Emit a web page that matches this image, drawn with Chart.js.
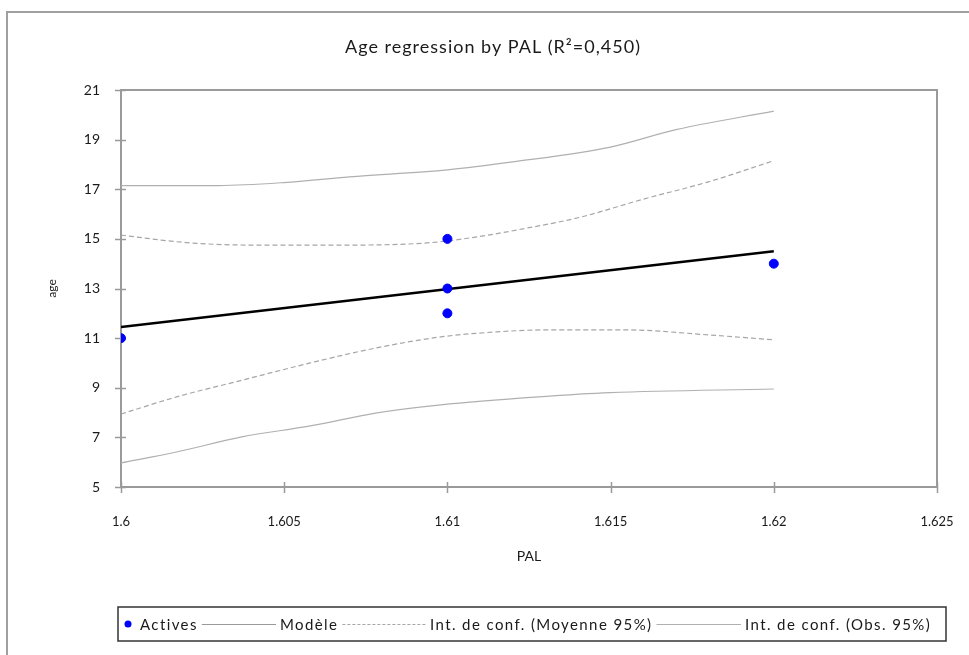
<!DOCTYPE html>
<html>
<head>
<meta charset="utf-8">
<script src="https://cdn.jsdelivr.net/npm/chart.js@4.4.1/dist/chart.umd.min.js"></script>
<style>
  html, body { margin: 0; padding: 0; background: #fff; }
  canvas { display: block; }
</style>
</head>
<body>
<canvas id="chart" width="969" height="655"></canvas>
<script>
// ========== DATA ==========
const activePal = [1.6, 1.61, 1.61, 1.61, 1.62];
const activeAge = [11, 15, 13, 12, 14];

const modelPal = [1.6, 1.62];
const modelAge = [11.45, 14.5];

// confidence interval on the mean (dashed)
const meanUpPal = [1.6, 1.602, 1.604, 1.607, 1.6095, 1.611, 1.6125, 1.614, 1.616, 1.618, 1.62];
const meanUpAge = [15.15, 14.85, 14.75, 14.75, 14.85, 15.1, 15.45, 15.85, 16.6, 17.3, 18.15];
const meanLoPal = [1.6, 1.6017, 1.6037, 1.6058, 1.6078, 1.6098, 1.6115, 1.613, 1.6155, 1.618, 1.62];
const meanLoAge = [7.94, 8.63, 9.3, 10.0, 10.6, 11.05, 11.25, 11.33, 11.33, 11.13, 10.93];

// confidence interval on observations (solid grey)
const obsUpPal = [1.6, 1.603, 1.605, 1.607, 1.61, 1.612, 1.615, 1.617, 1.62];
const obsUpAge = [17.15, 17.15, 17.27, 17.5, 17.78, 18.1, 18.7, 19.4, 20.15];
const obsLoPal = [1.6, 1.6017, 1.6037, 1.6058, 1.6078, 1.6098, 1.6128, 1.615, 1.62];
const obsLoAge = [5.97, 6.41, 7.02, 7.46, 7.98, 8.31, 8.63, 8.8, 8.95];

const xTicks = [1.6, 1.605, 1.61, 1.615, 1.62, 1.625];
const xTickLabels = ['1.6', '1.605', '1.61', '1.615', '1.62', '1.625'];
const yTicks = [5, 7, 9, 11, 13, 15, 17, 19, 21];

const legendLabels = ['Actives', 'Modèle', 'Int. de conf. (Moyenne 95%)', 'Int. de conf. (Obs. 95%)'];

// ========== STYLE ==========
const FONT = "Lato, 'Liberation Sans', sans-serif";
const TEXT = '#1a1a1a';
const AXIS = '#9a9a9a';

const toPts = (xs, ys) => xs.map((x, i) => ({ x: x, y: ys[i] }));

const bandLine = (label, xs, ys, color, dash) => ({
  label: label,
  data: toPts(xs, ys),
  showLine: true,
  borderColor: color,
  borderWidth: 1.2,
  borderDash: dash,
  pointRadius: 0,
  tension: 0.35,
  cubicInterpolationMode: 'monotone'
});

// frame, tick marks, title, legend and outer border
const decor = {
  id: 'decor',
  beforeDraw(chart) {
    const ctx = chart.ctx;
    ctx.save();
    ctx.fillStyle = '#fff';
    ctx.fillRect(0, 0, chart.width, chart.height);
    ctx.restore();
  },
  beforeDatasetsDraw(chart) {
    const { ctx, chartArea: a, scales } = chart;
    ctx.save();
    ctx.strokeStyle = AXIS;
    ctx.lineWidth = 2;
    ctx.strokeRect(a.left, a.top, a.right - a.left, a.bottom - a.top);
    ctx.lineWidth = 1.5;
    ctx.beginPath();
    scales.y.ticks.forEach(t => {
      const py = Math.round(scales.y.getPixelForValue(t.value)) + 0.5;
      ctx.moveTo(a.left - 6, py);
      ctx.lineTo(a.left + 5, py);
    });
    scales.x.ticks.forEach(t => {
      const px = Math.round(scales.x.getPixelForValue(t.value)) + 0.5;
      ctx.moveTo(px, a.bottom - 5);
      ctx.lineTo(px, a.bottom + 6);
    });
    ctx.stroke();
    ctx.restore();
  },
  afterDraw(chart) {
    const ctx = chart.ctx;
    ctx.save();

    // outer border
    ctx.strokeStyle = '#a0a0a0';
    ctx.lineWidth = 2;
    ctx.beginPath();
    ctx.moveTo(7, chart.height);
    ctx.lineTo(7, 12);
    ctx.lineTo(chart.width, 12);
    ctx.stroke();

    // title
    ctx.fillStyle = TEXT;
    ctx.font = "18px " + FONT;
    ctx.letterSpacing = '1px';
    ctx.textAlign = 'center';
    ctx.textBaseline = 'middle';
    ctx.fillText('Age regression by PAL (R²=0,450)', 493, 47);

    // legend
    const box = { left: 118, top: 607, right: 946, bottom: 641 };
    ctx.strokeStyle = '#333';
    ctx.lineWidth = 1.5;
    ctx.strokeRect(box.left, box.top, box.right - box.left, box.bottom - box.top);

    const cy = (box.top + box.bottom) / 2;
    ctx.font = "15px " + FONT;
    ctx.letterSpacing = '1.4px';
    ctx.textAlign = 'left';
    const textX = [140, 280, 430, 745];
    const ds = chart.data.datasets;

    ctx.fillStyle = ds[0].backgroundColor;
    ctx.beginPath();
    ctx.arc(128, cy, 3.5, 0, Math.PI * 2);
    ctx.fill();

    const samples = [
      { color: '#9a9a9a', dash: [] },
      { color: ds[2].borderColor, dash: [3, 2] },
      { color: ds[4].borderColor, dash: [] }
    ];
    legendLabels.forEach((label, i) => {
      ctx.fillStyle = TEXT;
      ctx.fillText(label, textX[i], cy + 1);
      if (i === 0) return;
      const s = samples[i - 1];
      const from = textX[i - 1] + ctx.measureText(legendLabels[i - 1]).width + 4;
      const to = textX[i] - 4;
      ctx.strokeStyle = s.color;
      ctx.lineWidth = 1;
      ctx.setLineDash(s.dash);
      ctx.beginPath();
      ctx.moveTo(from, cy + 0.5);
      ctx.lineTo(to, cy + 0.5);
      ctx.stroke();
      ctx.setLineDash([]);
    });
    ctx.restore();
  }
};

const ctx = document.getElementById('chart');

new Chart(ctx, {
  type: 'scatter',
  data: {
    datasets: [
      {
        label: 'Actives',
        data: toPts(activePal, activeAge),
        backgroundColor: '#0000ff',
        borderColor: '#0000ff',
        pointRadius: 4.5,
        pointHoverRadius: 4.5
      },
      {
        label: 'Modèle',
        data: toPts(modelPal, modelAge),
        showLine: true,
        borderColor: '#000',
        borderWidth: 2.5,
        pointRadius: 0
      },
      bandLine('Int. de conf. (Moyenne 95%)', meanUpPal, meanUpAge, '#a6a6a6', [5, 3]),
      bandLine('Int. de conf. (Moyenne 95%)', meanLoPal, meanLoAge, '#a6a6a6', [5, 3]),
      bandLine('Int. de conf. (Obs. 95%)', obsUpPal, obsUpAge, '#b0b0b0', []),
      bandLine('Int. de conf. (Obs. 95%)', obsLoPal, obsLoAge, '#b0b0b0', [])
    ]
  },
  options: {
    responsive: false,
    animation: false,
    events: [],
    layout: { padding: { left: 0, top: 90, right: 32, bottom: 0 } },
    plugins: {
      legend: { display: false },
      title: { display: false },
      tooltip: { enabled: false }
    },
    scales: {
      x: {
        type: 'linear',
        min: 1.6,
        max: 1.625,
        afterBuildTicks: s => { s.ticks = xTicks.map(v => ({ value: v })); },
        afterFit: s => { s.height = 168; s.paddingLeft = 0; s.paddingRight = 0; },
        grid: { display: false, drawTicks: false },
        border: { display: false },
        ticks: {
          padding: 27,
          color: TEXT,
          font: { family: FONT, size: 13 },
          maxRotation: 0,
          autoSkip: false,
          callback: (v, i) => xTickLabels[i]
        },
        title: {
          display: true,
          text: 'PAL',
          color: TEXT,
          font: { family: FONT, size: 14 },
          padding: { top: 0, bottom: 90 }
        }
      },
      y: {
        type: 'linear',
        min: 5,
        max: 21,
        afterBuildTicks: s => { s.ticks = yTicks.map(v => ({ value: v })); },
        afterFit: s => { s.width = 121; },
        grid: { display: false, drawTicks: false },
        border: { display: false },
        ticks: {
          padding: 21,
          color: TEXT,
          font: { family: FONT, size: 14 },
          autoSkip: false
        },
        title: {
          display: true,
          text: 'age',
          color: TEXT,
          font: { family: FONT, size: 12 },
          padding: { top: 45, bottom: 0 }
        }
      }
    }
  },
  plugins: [decor]
});
</script>
</body>
</html>
